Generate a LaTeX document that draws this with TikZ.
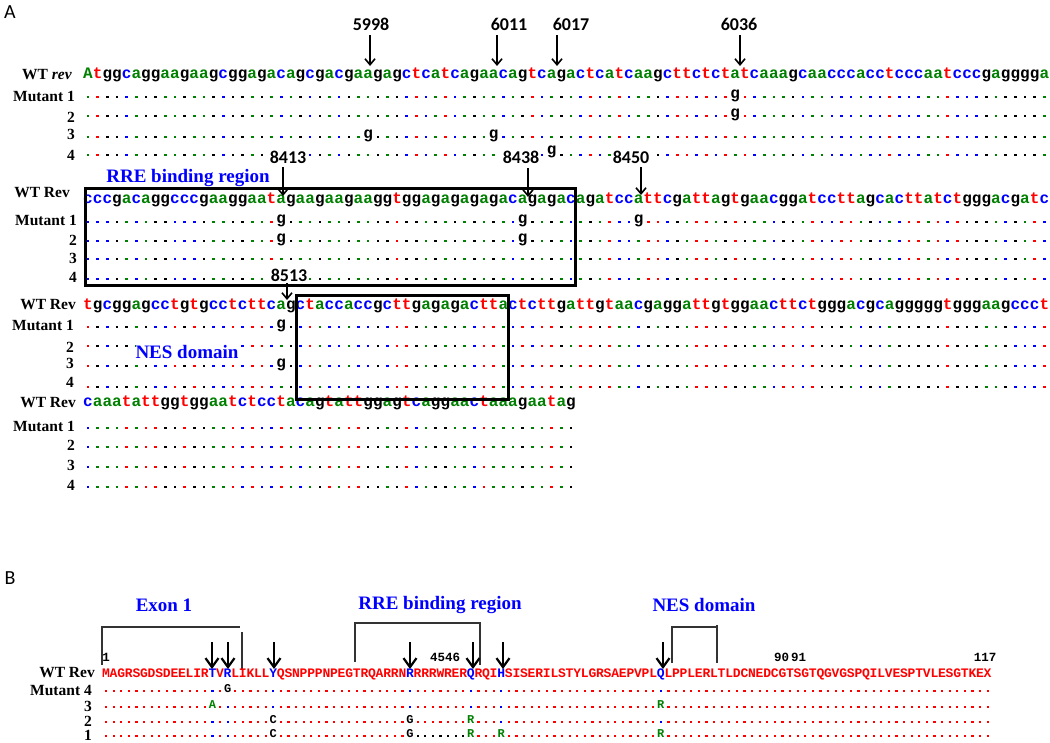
\documentclass[tikz,border=0pt]{standalone}
\usepackage{fontspec}
\setmainfont{Liberation Serif}
\newfontfamily\monof{Liberation Mono}
\newfontfamily\numf{Carlito}
\usetikzlibrary{arrows.meta}
\definecolor{ntgreen}{RGB}{0,128,0}
\definecolor{ntblue}{RGB}{0,0,255}
\definecolor{ntred}{RGB}{255,0,0}

\newcount\ntidx
\def\ntpitch{9.66}
\def\ntx{88}
\def\prpitch{7.6}
\def\prx{106}
\expandafter\def\csname ntcol@a\endcsname{ntgreen}
\expandafter\def\csname ntcol@A\endcsname{ntgreen}
\expandafter\def\csname ntcol@c\endcsname{ntblue}
\expandafter\def\csname ntcol@g\endcsname{black}
\expandafter\def\csname ntcol@t\endcsname{ntred}

% WT nucleotide row
\def\wtrow#1#2{\ntidx=0 \def\rowy{#1}\expandafter\wtscan#2\relax}
\def\wtscan#1{\ifx#1\relax\else\wtchar{#1}\advance\ntidx by 1 \expandafter\wtscan\fi}
\def\wtchar#1{\edef\tmpcol{\csname ntcol@#1\endcsname}\node[ntchar,text=\tmpcol] at ({\ntx+\the\ntidx*\ntpitch},\rowy) {#1};}
% dot row coloured by WT base
\def\dotrow#1#2{\ntidx=0 \def\rowy{#1}\expandafter\dotscan#2\relax}
\def\dotscan#1{\ifx#1\relax\else\dotchar{#1}\advance\ntidx by 1 \expandafter\dotscan\fi}
\def\dotchar#1{\edef\tmpcol{\csname ntcol@#1\endcsname}\fill[\tmpcol] ({\ntx+\the\ntidx*\ntpitch-1.3},{\rowy-1.3}) rectangle ++(2.6,2.6);}
\def\mutg#1#2{\node[mutlet] at ({\ntx+#1*\ntpitch},{#2+1}) {g};}
% protein
\def\prwt#1#2{\ntidx=0 \def\rowy{#1}\expandafter\prscan#2\relax}
\def\prscan#1{\ifx#1\relax\else\prchar{#1}\advance\ntidx by 1 \expandafter\prscan\fi}
\def\prchar#1{\ifnum`#1>96 \def\tmpcol{ntblue}\else\def\tmpcol{ntred}\fi\node[prlet,text=\tmpcol] at ({\prx+\the\ntidx*\prpitch},\rowy) {\uppercase{#1}};}
\def\prdots#1{\foreach \i in {0,...,116} {\fill[ntred] ({\prx+\i*\prpitch-1.1},{#1-1.1}) rectangle ++(2.2,2.2);}}
\def\prdot#1#2#3{\fill[#3] ({\prx+#1*\prpitch-1.1},{#2-1.1}) rectangle ++(2.2,2.2);}
\def\prmutlet#1#2#3#4{\node[prmut,text=#3] at ({\prx+#1*\prpitch},{#2+1.5}) {#4};}

\def\seqA{Atggcaggaagaagcggagacagcgacgaagagctcatcagaacagtcagactcatcaagcttctctatcaaagcaacccacctcccaatcccgagggga}
\def\seqB{cccgacaggcccgaaggaatagaagaagaaggtggagagagagacagagacagatccattcgattagtgaacggatccttagcacttatctgggacgatc}
\def\seqC{tgcggagcctgtgcctcttcagctaccaccgcttgagagacttactcttgattgtaacgaggattgtggaacttctgggacgcagggggtgggaagccct}
\def\seqD{caaatattggtggaatctcctacagtattggagtcaggaactaaagaatag}
\def\protWT{MAGRSGDSDEELIRtVrLIKLLyQSNPPPNPEGTRQARRNrRRRWRERqRQIhSISERILSTYLGRSAEPVPLqLPPLERLTLDCNEDCGTSGTQGVGSPQILVESPTVLESGTKEX}

\tikzset{
  lab/.style={font=\bfseries\fontsize{15.5}{16}\selectfont, anchor=east, inner sep=0pt},
  ntchar/.style={font=\monof\bfseries\fontsize{16}{16}\selectfont, anchor=base, inner sep=0pt},
  mutlet/.style={ntchar, text=black, fill=white},
  prlet/.style={font=\monof\bfseries\fontsize{13}{13}\selectfont, anchor=base, inner sep=0pt},
  prmut/.style={font=\monof\bfseries\fontsize{12}{12}\selectfont, anchor=base, inner sep=0pt, fill=white},
  posnum/.style={font=\numf\bfseries\fontsize{18}{18}\selectfont, inner sep=0.5pt, fill=white},
  regionlab/.style={font=\bfseries\fontsize{19}{19}\selectfont, text=ntblue, inner sep=0pt},
  ntarr/.style={line width=1.6pt, -{Straight Barb[length=6pt,width=10pt]}},
  prarr/.style={line width=2.2pt, -{Straight Barb[length=9pt,width=13pt]}},
  hbox/.style={line width=3pt},
  brk/.style={line width=1.3pt, draw=black!80},
  prnum/.style={font=\monof\bfseries\fontsize{12.5}{12.5}\selectfont, inner sep=0pt},
  panellab/.style={font=\numf\fontsize{20}{20}\selectfont, inner sep=0pt}
}

\begin{document}
\begin{tikzpicture}[x=1pt,y=-1pt]
\fill[white] (0,0) rectangle (1050,742);
\useasboundingbox (0,0) rectangle (1050,742);

\node[panellab] (pA) at (10,12) {A};
\node[panellab] (pB) at (10,578) {B};

% ---------- Block 1
\node[lab] (wt1) at (72,75) {WT \textit{rev}};
\wtrow{78}{\seqA}
\node[lab] (b1m1) at (75,96) {Mutant 1}; \dotrow{97}{\seqA} \mutg{67}{97}
\node[lab] (b1m2) at (75,117) {2}; \dotrow{116}{\seqA} \mutg{67}{116}
\node[lab] (b1m3) at (75,134) {3}; \dotrow{137}{\seqA} \mutg{29}{137} \mutg{42}{137}
\node[lab] (b1m4) at (75,155) {4}; \dotrow{155}{\seqA} \mutg{48}{153}

% ---------- Block 2
\node[lab] (wt2) at (70,193) {WT Rev};
\wtrow{203}{\seqB}
\node[lab] (b2m1) at (77,220) {Mutant 1}; \dotrow{222}{\seqB} \mutg{20}{222} \mutg{45}{222} \mutg{57}{222}
\node[lab] (b2m2) at (77,240) {2}; \dotrow{241}{\seqB} \mutg{20}{241} \mutg{45}{241}
\node[lab] (b2m3) at (77,258) {3}; \dotrow{259}{\seqB}
\node[lab] (b2m4) at (77,277) {4}; \dotrow{279}{\seqB}

% ---------- Block 3
\node[lab] (wt3) at (76,305) {WT Rev};
\wtrow{309}{\seqC}
\node[lab] (b3m1) at (74,325) {Mutant 1}; \dotrow{327}{\seqC} \mutg{20}{327}
\node[lab] (b3m2) at (74,347) {2}; \dotrow{346}{\seqC}
\node[lab] (b3m3) at (74,363) {3}; \dotrow{366}{\seqC} \mutg{20}{366}
\node[lab] (b3m4) at (74,382) {4}; \dotrow{387}{\seqC}

% ---------- Block 4
\node[lab] (wt4) at (76,403) {WT Rev};
\wtrow{406}{\seqD}
\node[lab] (b4m1) at (75,426) {Mutant 1}; \dotrow{428}{\seqD}
\node[lab] (b4m2) at (75,445) {2}; \dotrow{447}{\seqD}
\node[lab] (b4m3) at (75,465) {3}; \dotrow{467}{\seqD}
\node[lab] (b4m4) at (75,485) {4}; \dotrow{487}{\seqD}

% boxes
\draw[hbox] (85,188) rectangle (575,285);
\draw[hbox] (296,295) rectangle (508,399);

% region labels (A)
\node[regionlab] (rreA) at (188,178) {RRE binding region};
\node[regionlab, fill=white] (nesA) at (187,352) {NES domain};

% position numbers and arrows (A)
\node[posnum] (n5998) at (371,24) {5998};
\node[posnum] (n6011) at (509,24) {6011};
\node[posnum] (n6017) at (571,24) {6017};
\node[posnum] (n6036) at (739,24) {6036};
\node[posnum] (n8413) at (288,157) {8413};
\node[posnum] (n8438) at (521,157) {8438};
\node[posnum] (n8450) at (631,157) {8450};
\node[posnum] (n8513) at (289,275) {8513};

\coordinate (s5998) at (370,35); \coordinate (t5998) at (370,66);
\coordinate (s6011) at (497,35); \coordinate (t6011) at (497,66);
\coordinate (s6017) at (557,35); \coordinate (t6017) at (557,66);
\coordinate (s6036) at (740,35); \coordinate (t6036) at (740,66);
\coordinate (s8413) at (283,167); \coordinate (t8413) at (283,196);
\coordinate (s8438) at (528,168); \coordinate (t8438) at (528,197);
\coordinate (s8450) at (641,167); \coordinate (t8450) at (641,195);
\coordinate (s8513) at (287,283); \coordinate (t8513) at (287,300);
\foreach \n in {5998,6011,6017,6036,8413,8438,8450,8513}
  \draw[ntarr] (s\n) -- (t\n);

% ---------- Panel B
\node[regionlab] (exB) at (164,605) {Exon 1};
\node[regionlab] (rreB) at (440,605) {RRE binding region};
\node[regionlab] (nesB) at (704,605) {NES domain};

\draw[brk] (102,665) -- (102,627) -- (240,627);
\draw[brk] (242,632) -- (242,670);
\draw[brk] (355,662) -- (355,623) -- (480,623) -- (480,665);
\draw[brk] (672,663) -- (672,627) -- (717,627);
\draw[brk] (717,625) -- (717,663);

\node[prnum] (p1) at (106,657) {1};
\node[prnum] (p4546) at (445,657) {4546};
\node[prnum] (p9091) at (790,657) {90\hspace{2pt}91};
\node[prnum] (p117) at (985,657) {117};

\node[lab] (wtP) at (95,673) {WT Rev};
\prwt{677}{\protWT}

\node[lab] (pm4) at (92,690) {Mutant 4};
\prdots{691}
\foreach \k in {14,22,40,48,52,73} {\prdot{\k}{691}{ntblue}}
\prmutlet{16}{691}{black}{G}

\node[lab] (pm3) at (92,706) {3};
\prdots{707}
\foreach \k in {16,22,40,48,52} {\prdot{\k}{707}{ntblue}}
\prmutlet{14}{707}{ntgreen}{A}
\prmutlet{73}{707}{ntgreen}{R}

\node[lab] (pm2) at (92,721) {2};
\prdots{722}
\foreach \k in {14,16,52,73} {\prdot{\k}{722}{ntblue}}
\prmutlet{22}{722}{black}{C}
\prmutlet{40}{722}{black}{G}
\prmutlet{48}{722}{ntgreen}{R}

\node[lab] (pm1) at (92,735) {1};
\prdots{736}
\foreach \k in {14,16} {\prdot{\k}{736}{ntblue}}
\foreach \k in {41,...,47} {\prdot{\k}{736}{black}}
\prmutlet{22}{736}{black}{C}
\prmutlet{40}{736}{black}{G}
\prmutlet{48}{736}{ntgreen}{R}
\prmutlet{52}{736}{ntgreen}{R}
\prmutlet{73}{736}{ntgreen}{R}

% protein arrows
\foreach \ax [count=\j] in {212,228,274,410,473,503,663} {
  \coordinate (pas\j) at (\ax,642);
  \coordinate (pat\j) at (\ax,669);
  \draw[prarr] (pas\j) -- (pat\j);
}
\end{tikzpicture}
\end{document}
